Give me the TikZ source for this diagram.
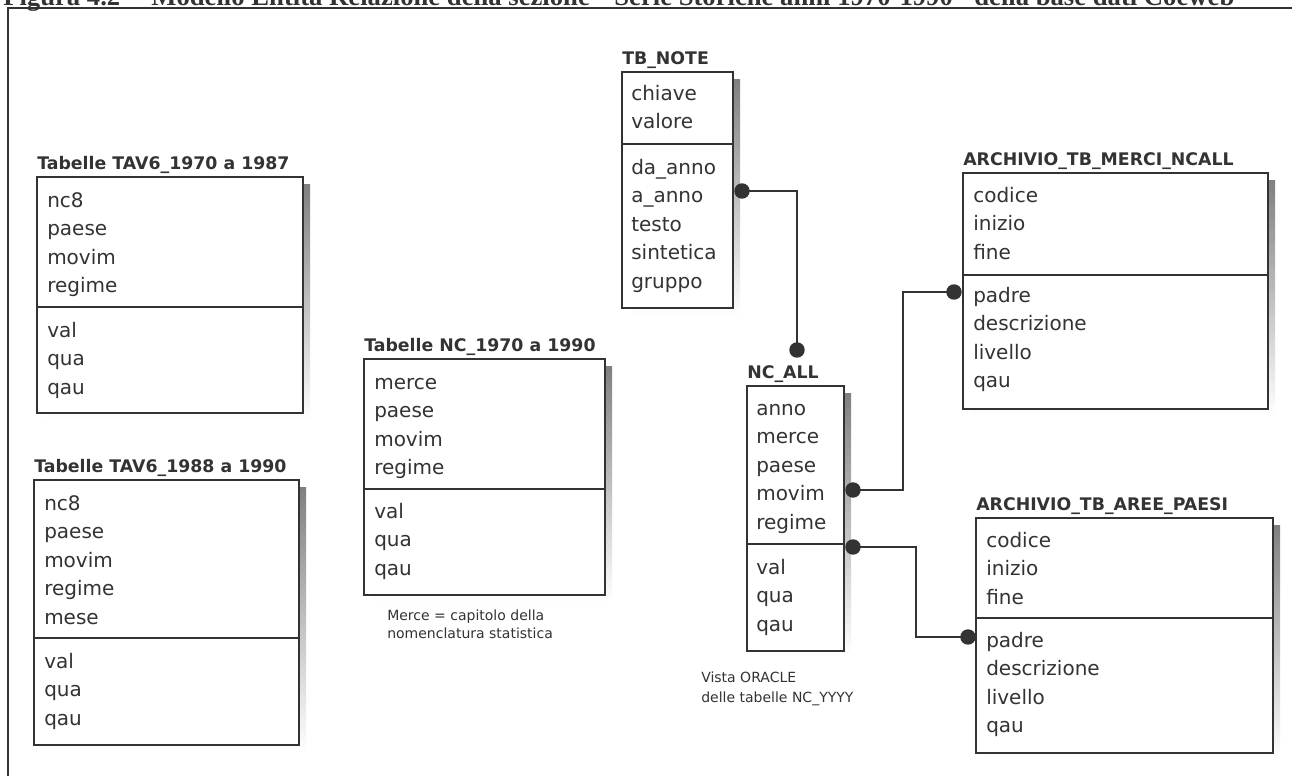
\documentclass[tikz,border=0pt]{standalone}
\usepackage{fontspec}
\setmainfont{DejaVu Sans}
\newfontfamily\capfont{Liberation Serif}
\usetikzlibrary{fit,calc}
\definecolor{ink}{HTML}{333333}
\definecolor{shade}{HTML}{8A8A8A}
\tikzset{
  box/.style={draw=ink, line width=1.2pt, fill=white, inner sep=0pt, rectangle},
  divline/.style={draw=ink, line width=1.2pt},
  ttl/.style={font=\bfseries\fontsize{13}{15}\selectfont, text=ink, inner sep=0pt, anchor=base west},
  attr/.style={font=\fontsize{15}{18}\selectfont, text=ink, inner sep=0pt, anchor=base west},
  note/.style={font=\fontsize{10.5}{13.5}\selectfont, text=ink, inner sep=0pt, anchor=base west},
  conn/.style={draw=ink, line width=1.5pt},
  dotc/.style={fill=ink},
}
% name, x1, y1, x2, y2, ydiv, title
\newcommand\ertab[7]{%
  \fill[shade] (#2+7,#3+7) rectangle (#4+7,#5+7);
  \node[box, fit={(#2,#3) (#4,#5)}] (#1) {};
  \draw[divline] (#2,#6) -- (#4,#6);
  \node[ttl] (#1t) at (#2,#3-8) {#7};
}
% prefix, x, first row centre, list
\newcommand\errows[4]{%
  \foreach \t [count=\i from 0] in {#4}
    \node[attr] (#1-\i) at (#2,#3+7+28.6*\i) {\t};
}
\begin{document}
\begin{tikzpicture}[x=0.75pt, y=-0.75pt]
\useasboundingbox (0,0) rectangle (1292,775);
\fill[white] (0,0) rectangle (1292,775);
% page caption, cut by the top edge as in the source
\node[font=\capfont\bfseries\fontsize{20}{24}\selectfont, text=ink, inner sep=0pt, anchor=base west] (cap) at (3,5)
  {Figura 4.2 -- Modello Entità Relazione della sezione ``Serie Storiche anni 1970-1990'' della base dati Coeweb};
% frame
\draw[draw=ink, line width=1.6pt] (8,8) rectangle (1320,800);

% tables
\ertab{t1}{37}{177}{303}{413}{307}{Tabelle TAV6\_1970 a 1987}
\errows{t1a}{47}{200}{nc8,paese,movim,regime}
\errows{t1b}{47}{330}{val,qua,qau}

\ertab{t2}{34}{480}{299}{745}{638}{Tabelle TAV6\_1988 a 1990}
\errows{t2a}{44}{503}{nc8,paese,movim,regime,mese}
\errows{t2b}{44}{661}{val,qua,qau}

\ertab{t3}{364}{359}{605}{595}{489}{Tabelle NC\_1970 a 1990}
\errows{t3a}{374}{382}{merce,paese,movim,regime}
\errows{t3b}{374}{511}{val,qua,qau}
\node[note] (n3a) at (387,620) {Merce = capitolo della};
\node[note] (n3b) at (387,638) {nomenclatura statistica};

\ertab{t4}{622}{72}{733}{308}{144}{TB\_NOTE}
\errows{t4a}{631}{93}{chiave,valore}
\errows{t4b}{631}{167}{da\_anno,a\_anno,testo,sintetica,gruppo}

\ertab{t5}{747}{386}{844}{651}{544}{NC\_ALL}
\errows{t5a}{756}{408}{anno,merce,paese,movim,regime}
\errows{t5b}{756}{567}{val,qua,qau}
\node[note] (n5a) at (701,682) {Vista ORACLE};
\node[note] (n5b) at (701,702) {delle tabelle NC\_YYYY};

\ertab{t6}{963}{173}{1268}{409}{275}{ARCHIVIO\_TB\_MERCI\_NCALL}
\errows{t6a}{973}{195}{codice,inizio,fine}
\errows{t6b}{973}{295}{padre,descrizione,livello,qau}

\ertab{t7}{976}{518}{1273}{753}{618}{ARCHIVIO\_TB\_AREE\_PAESI}
\errows{t7a}{986}{540}{codice,inizio,fine}
\errows{t7b}{986}{640}{padre,descrizione,livello,qau}

% relationship end points
\coordinate (d1) at (742,191);
\coordinate (d2) at (797,350);
\coordinate (d3) at (853,490);
\coordinate (d4) at (954,292);
\coordinate (d5) at (853,547);
\coordinate (d6) at (968,637);

\draw[conn] (d1) -| (d2);
\draw[conn] (d3) -- ++(50,0) |- (d4);
\draw[conn] (d5) -- ++(63,0) |- (d6);
\foreach \d in {d1,d2,d3,d4,d5,d6} \fill[dotc] (\d) circle (5.8pt);
\end{tikzpicture}
\end{document}
